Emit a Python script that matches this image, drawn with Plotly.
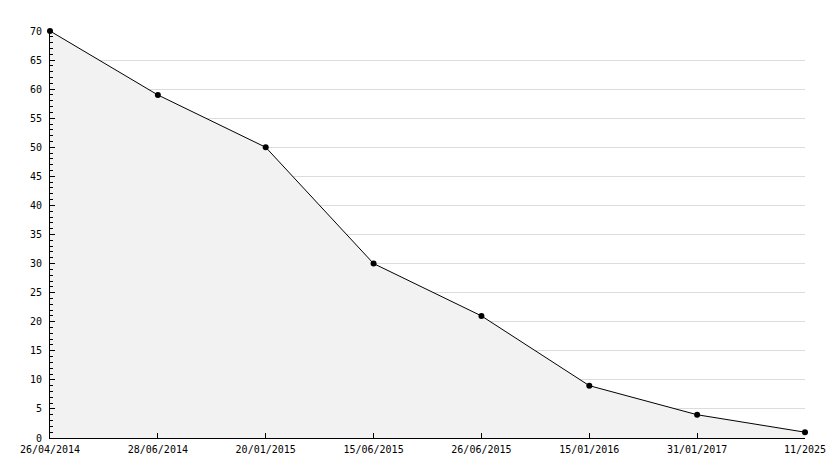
import plotly.graph_objects as go

dates = ["26/04/2014", "28/06/2014", "20/01/2015", "15/06/2015",
         "26/06/2015", "15/01/2016", "31/01/2017", "11/2025"]
values = [70, 59, 50, 30, 21, 9, 4, 1]

fig = go.Figure()
fig.add_trace(go.Scatter(
    x=dates, y=values, mode="lines+markers",
    line=dict(color="black", width=1),
    marker=dict(color="black", size=6, symbol="circle"),
    fill="tozeroy", fillcolor="#f2f2f2",
    cliponaxis=False,
))

font = dict(family="DejaVu Sans Mono", size=10, color="black")
fig.update_layout(
    width=826, height=460,
    margin=dict(l=42, r=29, t=23, b=30, autoexpand=False),
    paper_bgcolor="white", plot_bgcolor="white",
    showlegend=False,
    font=font,
    xaxis=dict(
        type="category", range=[0, 7], automargin=False,
        showgrid=False, showline=True, linecolor="black", linewidth=1,
        ticks="inside", ticklen=5, tickcolor="black", tickwidth=1,
        tickfont=font, zeroline=False, ticklabelstandoff=2,
    ),
    yaxis=dict(
        range=[0, 70], dtick=5, tick0=0, automargin=False,
        showgrid=True, gridcolor="#dcdcdc", gridwidth=1,
        showline=True, linecolor="black", linewidth=1,
        ticks="inside", ticklen=5, tickcolor="black", tickwidth=1,
        tickfont=font, zeroline=False, ticklabelstandoff=5,
        minor=dict(dtick=1, ticks="inside", ticklen=3, tickcolor="black", showgrid=False),
    ),
)

fig.write_html("out.html")
